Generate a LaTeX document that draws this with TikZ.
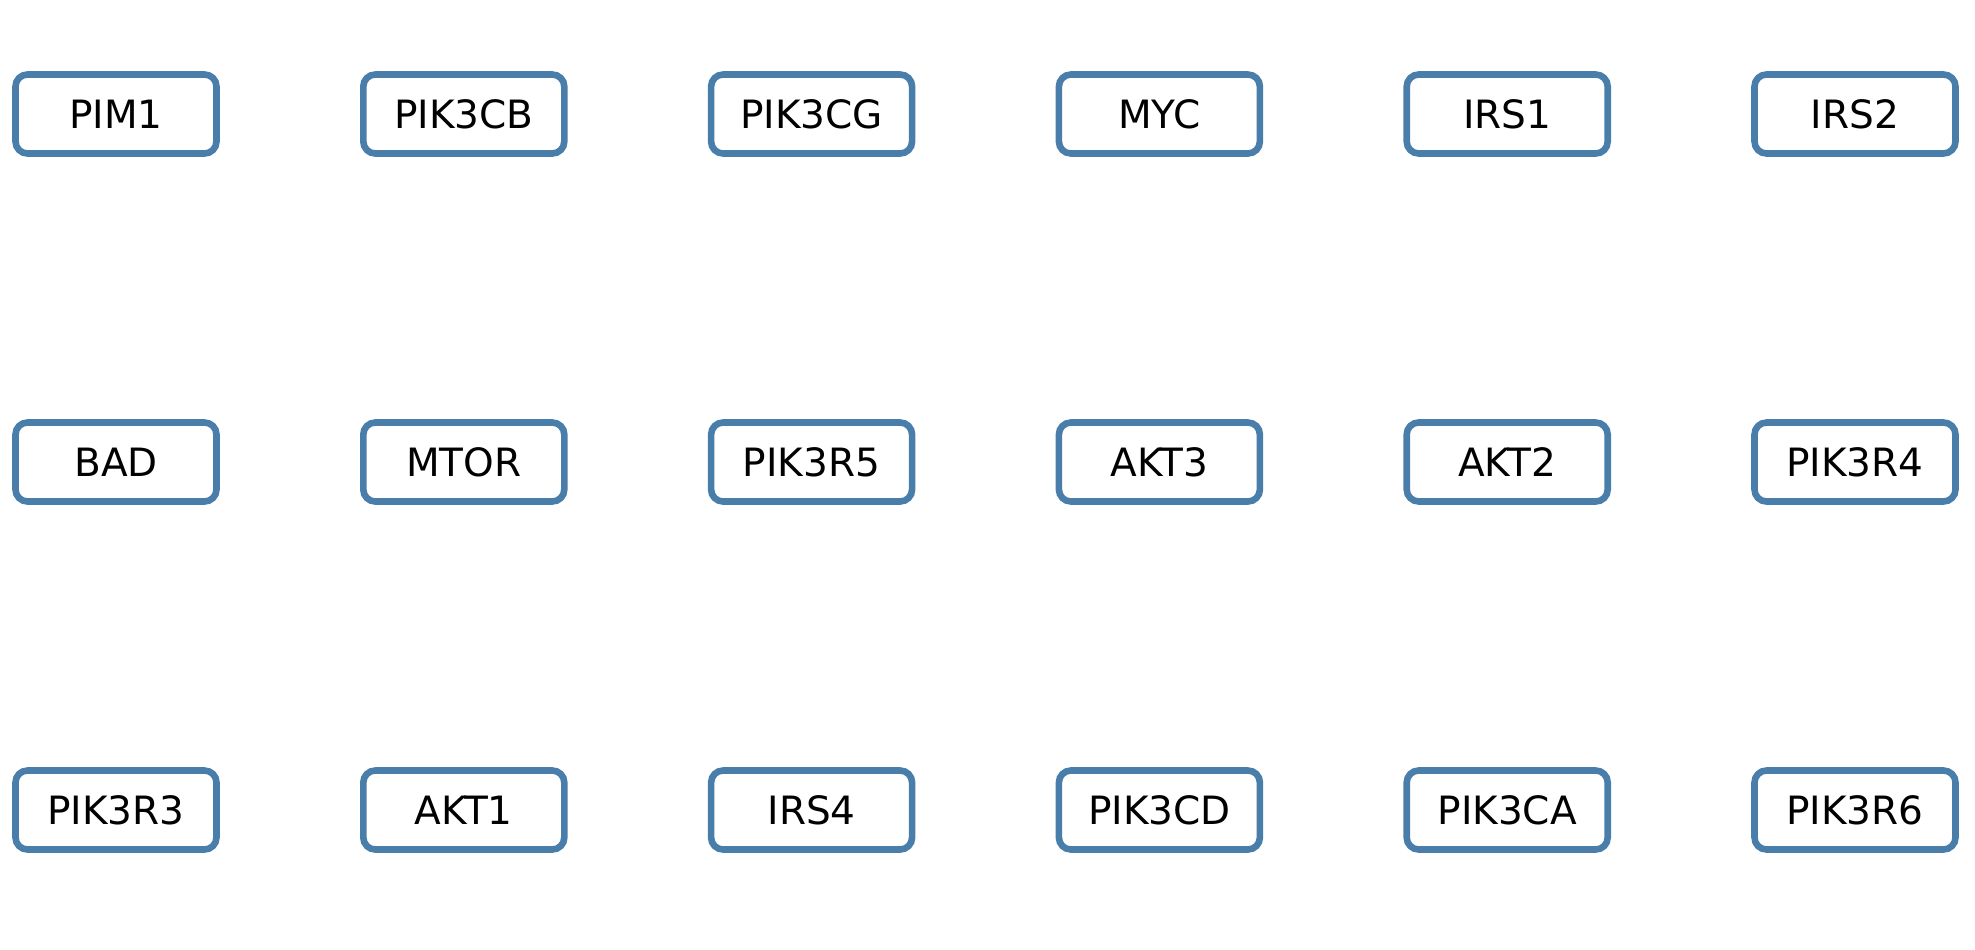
\documentclass[tikz,border=0pt]{standalone}
\usepackage{fontspec}
\setmainfont{DejaVu Sans}
\definecolor{geneblue}{RGB}{74,126,170}

\begin{document}
\begin{tikzpicture}[x=1pt, y=1pt,
    every node/.style={draw=geneblue, line width=3.3pt, rounded corners=6pt, fill=white, text=black,
      minimum width=100.5pt, minimum height=39.5pt, inner sep=0pt, font=\fontsize{19.5}{23}\selectfont},
    ]
  \useasboundingbox (0,0) rectangle (987.5,-474.5);

  % top row
  \foreach \gene [count=\i from 0] in {PIM1,PIK3CB,PIK3CG,MYC,IRS1,IRS2}
    \node (\gene) at (58+173.9*\i, -57) {\gene};
  % middle row
  \foreach \gene [count=\i from 0] in {BAD,MTOR,PIK3R5,AKT3,AKT2,PIK3R4}
    \node (\gene) at (58+173.9*\i, -231) {\gene};
  % bottom row
  \foreach \gene [count=\i from 0] in {PIK3R3,AKT1,IRS4,PIK3CD,PIK3CA,PIK3R6}
    \node (\gene) at (58+173.9*\i, -405) {\gene};

\end{tikzpicture}
\end{document}
